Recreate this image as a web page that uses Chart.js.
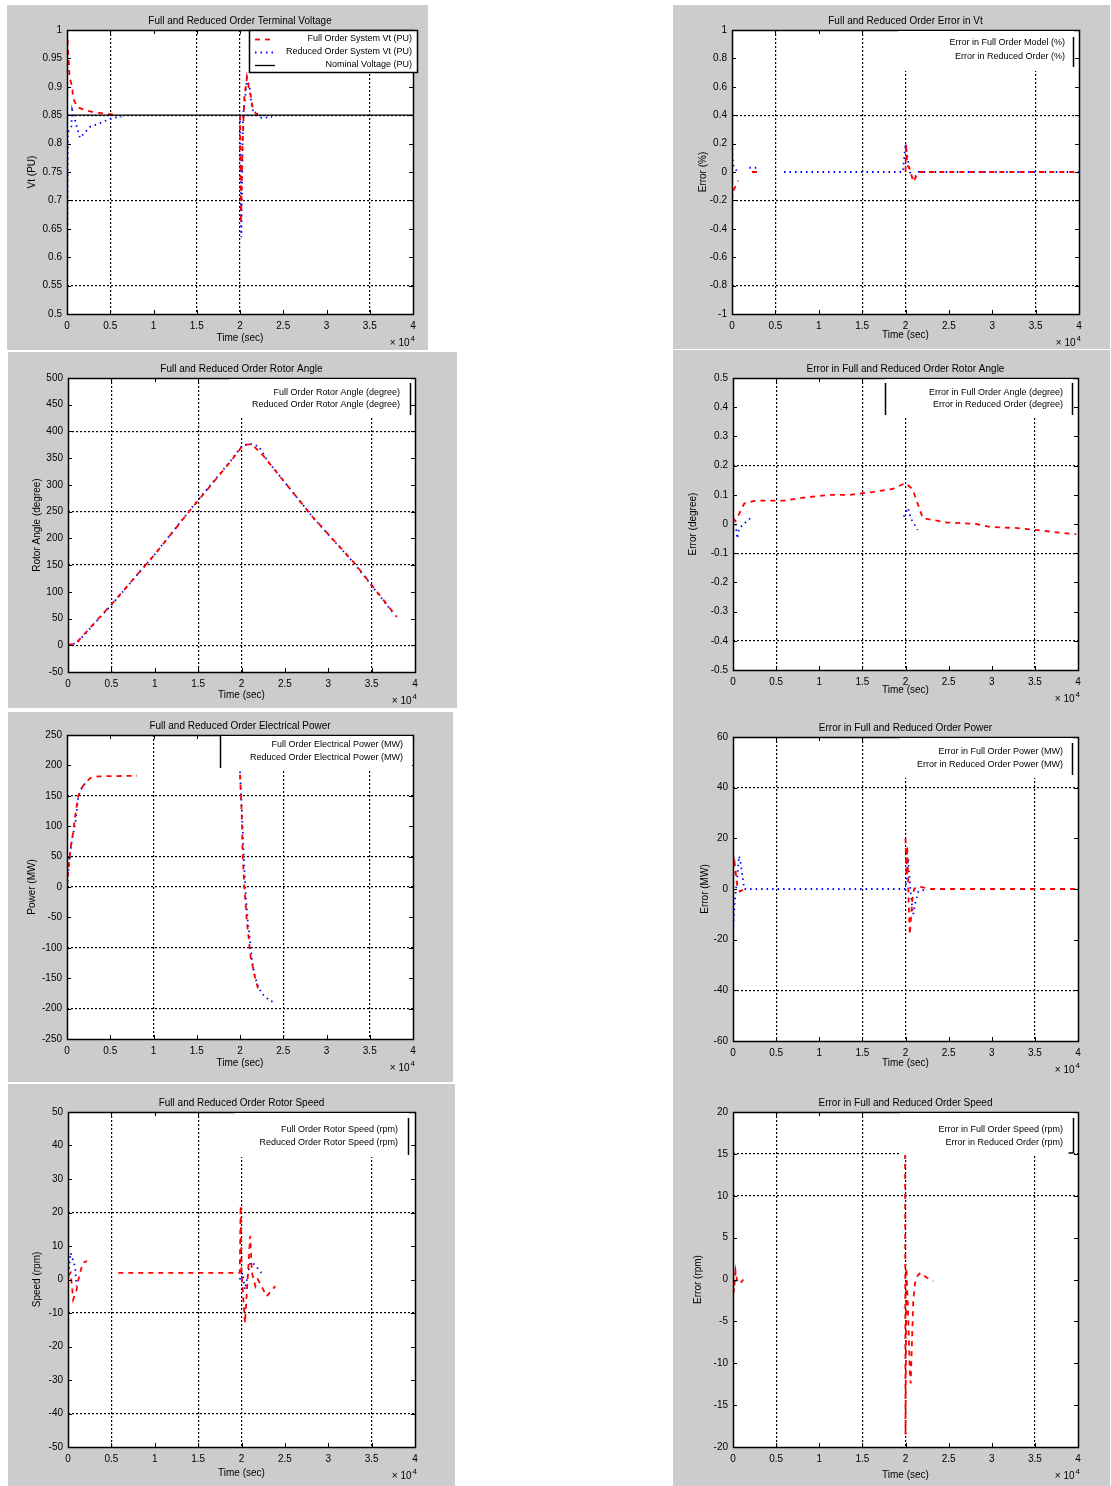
<!DOCTYPE html>
<html lang="en">
<head>
<meta charset="UTF-8">
<title>Full and Reduced Order Model Comparison</title>
<script src="https://cdn.jsdelivr.net/npm/chart.js"></script>
<style>
  body { margin: 0; background: #fff; }
  .panel { position: absolute; background: #cccccc; }
  .panel canvas { display: block; }
</style>
</head>
<body>
<script>
// time is in units of 10^4 s (axis shows "x 10^4")
const xTicks = [0, 0.5, 1, 1.5, 2, 2.5, 3, 3.5, 4];

// terminal voltage (pu)
const vtTicks = [0.5, 0.55, 0.6, 0.65, 0.7, 0.75, 0.8, 0.85, 0.9, 0.95, 1];
const vtFullT = [0, 0.01, 0.03, 0.06, 0.07, 0.12, 0.21, 0.29, 0.46, 0.55, 1.2, 2.0, 2.01, 2.03, 2.05, 2.08, 2.1, 2.13, 2.15, 2.2, 2.25];
const vtFull  = [1.0, 0.97, 0.917, 0.9, 0.88, 0.864, 0.859, 0.856, 0.852, 0.851, null, 0.85, 0.66, 0.8, 0.88, 0.917, 0.9, 0.88, 0.86, 0.85, 0.847];
const vtRedT  = [0, 0.01, 0.05, 0.06, 0.15, 0.27, 0.38, 0.52, 0.63, 1.2, 2.0, 2.015, 2.035, 2.06, 2.08, 2.11, 2.14, 2.25, 2.37];
const vtRed   = [0.54, 0.82, 0.83, 0.859, 0.81, 0.83, 0.836, 0.845, 0.847, null, 0.85, 0.635, 0.85, 0.88, 0.915, 0.9, 0.86, 0.845, 0.847];
const vtNomT  = [0, 4];
const vtNom   = [0.85, 0.85];

// error in terminal voltage (%)
const vtErrTicks = [-1, -0.8, -0.6, -0.4, -0.2, 0, 0.2, 0.4, 0.6, 0.8, 1];
const vtErrFullT = [0, 0.01, 0.07, 0.15, 0.23, 0.33, 1.2, 2.0, 2.005, 2.02, 2.05, 2.09, 2.15, 4];
const vtErrFull  = [-0.2, -0.14, -0.06, null, 0, 0, null, 0, 0.2, 0.05, 0.02, -0.07, 0, 0];
const vtErrRedT  = [0, 0.005, 0.02, 0.07, 0.14, 0.2, 0.28, 0.45, 0.6, 1.97, 2.0, 2.03, 2.05, 2.09, 2.15, 4];
const vtErrRed   = [0.32, 0.1, 0.03, 0, null, 0.03, 0.03, null, 0, 0, 0.2, 0.08, 0, -0.05, 0, 0];

// rotor angle (degree)
const angTicks = [-50, 0, 50, 100, 150, 200, 250, 300, 350, 400, 450, 500];
const angFullT = [0, 0.1, 0.52, 1.0, 1.43, 1.89, 2.02, 2.12, 2.25, 2.82, 3.3, 3.79];
const angFull  = [0, 5, 80, 170, 257, 347, 375, 376, 355, 240, 154, 53];
const angRedT  = [0, 0.1, 0.52, 1.0, 1.43, 1.89, 2.0, 2.1, 2.2, 2.3, 2.82, 3.3, 3.74];
const angRed   = [0, 4, 79, 170, 258, 348, 372, 377, 372, 345, 240, 153, 62];

// error in rotor angle (degree)
const angErrTicks = [-0.5, -0.4, -0.3, -0.2, -0.1, 0, 0.1, 0.2, 0.3, 0.4, 0.5];
const angErrFullT = [0, 0.03, 0.13, 0.26, 0.59, 0.82, 1.13, 1.36, 1.63, 1.85, 2.0, 2.08, 2.13, 2.2, 2.48, 2.82, 2.98, 3.3, 3.5, 3.8, 3.98];
const angErrFull  = [0.02, 0.01, 0.07, 0.08, 0.08, 0.09, 0.1, 0.1, 0.11, 0.12, 0.14, 0.12, 0.08, 0.02, 0.005, 0, -0.01, -0.014, -0.02, -0.03, -0.035];
const angErrRedT  = [0.03, 0.05, 0.07, 0.2, 1.0, 1.98, 2.03, 2.06, 2.1, 2.14];
const angErrRed   = [0, -0.05, -0.015, 0.02, null, 0.025, 0.055, 0.02, 0, -0.02];

// electrical power (MW)
const pwrTicks = [-250, -200, -150, -100, -50, 0, 50, 100, 150, 200, 250];
const pwrFullT = [0, 0.01, 0.03, 0.05, 0.07, 0.1, 0.13, 0.17, 0.21, 0.27, 0.36, 0.81, 1.4, 2.0, 2.02, 2.03, 2.05, 2.08, 2.1, 2.12, 2.17, 2.21];
const pwrFull  = [0, 20, 48, 72, 89, 122, 150, 163, 171, 179, 182, 183, null, 185, 120, 56, 0, -58, -83, -113, -146, -168];
const pwrRedT  = [0, 0.01, 0.03, 0.06, 0.1, 0.13, 0.16, 0.21, 1.4, 2.0, 2.01, 2.03, 2.04, 2.05, 2.07, 2.09, 2.11, 2.14, 2.17, 2.2, 2.25, 2.35, 2.4];
const pwrRed   = [0, 15, 48, 80, 108, 148, 160, 171, null, 190, 160, 100, 60, 30, -20, -55, -80, -122, -146, -160, -175, -188, -188];

// error in electrical power (MW)
const pwrErrTicks = [-60, -40, -20, 0, 20, 40, 60];
const pwrErrFullT = [0, 0.02, 0.05, 0.08, 0.13, 1.0, 2.0, 2.01, 2.02, 2.04, 2.05, 2.06, 2.08, 2.1, 2.14, 2.3, 4];
const pwrErrFull  = [5, 10, 1, -1, 0, null, 20, 5, 17, -9, -18, -13, -4, 0, 1, 0, 0];
const pwrErrRedT  = [0, 0.02, 0.05, 0.07, 0.09, 0.11, 0.13, 2.0, 2.03, 2.04, 2.07, 2.09, 2.11, 2.15, 2.25];
const pwrErrRed   = [-17, -5, 5, 13, 10, 5, 0, 0, 12, 7, -5, -10, -6, -1, 0];

// rotor speed (rpm)
const spdTicks = [-50, -40, -30, -20, -10, 0, 10, 20, 30, 40, 50];
const spdFullT = [0, 0.03, 0.06, 0.1, 0.12, 0.17, 0.22, 0.4, 0.58, 1.98, 1.99, 2.0, 2.04, 2.07, 2.1, 2.12, 2.16, 2.19, 2.29, 2.39];
const spdFull  = [1, 2, -6, -3, 0, 5, 5.5, null, 2, 2, 22, 2, -13, 0, 13, 2, -2, 0, -5, -2];
const spdRedT  = [0, 0.03, 0.08, 0.1, 1.0, 1.98, 2.01, 2.04, 2.1, 2.13, 2.23];
const spdRed   = [0, 8, 4, -2, null, 0, 2, -3, 5, 5, 2];

// error in rotor speed (rpm)
const spdErrTicks = [-20, -15, -10, -5, 0, 5, 10, 15, 20];
const spdErrFullT = [0, 0.01, 0.03, 0.05, 0.08, 0.12, 1.0, 1.995, 2.0, 2.01, 2.03, 2.05, 2.06, 2.09, 2.11, 2.13, 2.17, 2.25, 2.32];
const spdErrFull  = [2.5, -1.5, 1, -0.3, -0.5, 0, null, 15, -18.5, 1.4, -4, -11, -12.4, -2.5, -0.5, 0.3, 0.8, 0.2, -0.2];
const spdErrRedT  = [];
const spdErrRed   = [];

const FONT = '"Liberation Sans", Arial, sans-serif';
const RED = { color: '#ff0000', dash: [5, 5] };
const BLUE = { color: '#0000ff', dash: [1.5, 4] };
const BLACK = { color: '#000000', dash: [] };
const gridCommon = [0.5, 1.5, 2, 3.5];

const toPts = (t, v) => t.map((x, i) => ({ x: x, y: v[i] }));
const fmt = v => String(Math.round(v * 1000) / 1000);
const has = (list, v) => list.some(g => Math.abs(g - v) < 1e-9);

const panels = [
  { box: [7, 5, 421, 345], plot: [67, 30, 413, 314], yTicks: vtTicks,
    gridX: gridCommon, gridY: [0.85, 0.7, 0.55],
    title: 'Full and Reduced Order Terminal Voltage', yTitle: 'Vt (PU)', yPad: 19, xPad: 6,
    series: [
      { label: 'Full Order System Vt (PU)', t: vtFullT, v: vtFull, st: RED },
      { label: 'Reduced Order System Vt (PU)', t: vtRedT, v: vtRed, st: BLUE },
      { label: 'Nominal Voltage (PU)', t: vtNomT, v: vtNom, st: BLACK, width: 1.3 }
    ],
    legend: { x0: 249, y0: 30, x1: 418, y1: 73, frame: true, samples: [255, 275], textX: 412, rows: [39, 52, 65] } },
  { box: [673, 5, 437, 344], plot: [732, 30, 1079, 314], yTicks: vtErrTicks,
    gridX: gridCommon, gridY: [0.4, -0.2, -0.8],
    title: 'Full and Reduced Order Error in Vt', yTitle: 'Error (%)', yPad: 24, xPad: 8,
    series: [
      { label: 'Error in Full Order Model (%)', t: vtErrFullT, v: vtErrFull, st: RED },
      { label: 'Error in Reduced Order (%)', t: vtErrRedT, v: vtErrRed, st: BLUE }
    ],
    legend: { x0: 898, y0: 31, x1: 1074, y1: 71, bars: [[1073, 37, 1073, 67]], textX: 1065, rows: [43, 57] } },
  { box: [8, 352, 449, 356], plot: [68, 378, 415, 672], yTicks: angTicks,
    gridX: gridCommon, gridY: [400, 250, 150, 0],
    title: 'Full and Reduced Order Rotor Angle', yTitle: 'Rotor Angle (degree)', yPad: 23, xPad: 7,
    series: [
      { label: 'Full Order Rotor Angle (degree)', t: angFullT, v: angFull, st: RED },
      { label: 'Reduced Order Rotor Angle (degree)', t: angRedT, v: angRed, st: BLUE }
    ],
    legend: { x0: 230, y0: 379, x1: 411, y1: 418, bars: [[410, 383, 410, 415]], textX: 400, rows: [393, 405] } },
  { box: [673, 350, 437, 358], plot: [733, 378, 1078, 670], yTicks: angErrTicks,
    gridX: gridCommon, gridY: [0.2, -0.1, -0.4],
    title: 'Error in Full and Reduced Order Rotor Angle', yTitle: 'Error (degree)', yPad: 14, xPad: 12,
    series: [
      { label: 'Error in Full Order Angle (degree)', t: angErrFullT, v: angErrFull, st: RED },
      { label: 'Error in Reduced Order (degree)', t: angErrRedT, v: angErrRed, st: BLUE }
    ],
    legend: { x0: 885, y0: 379, x1: 1073, y1: 418, bars: [[885, 383, 885, 415], [1072, 383, 1072, 415]], textX: 1063, rows: [393, 405] } },
  { box: [8, 712, 445, 370], plot: [67, 735, 413, 1039], yTicks: pwrTicks,
    gridX: [1, 2.5, 3.5], gridY: [150, 50, 0, -100, -200],
    title: 'Full and Reduced Order Electrical Power', yTitle: 'Power (MW)', yPad: 18, xPad: 13,
    series: [
      { label: 'Full Order Electrical Power (MW)', t: pwrFullT, v: pwrFull, st: RED },
      { label: 'Reduced Order Electrical Power (MW)', t: pwrRedT, v: pwrRed, st: BLUE }
    ],
    legend: { x0: 220, y0: 736, x1: 412, y1: 770, bars: [[220, 735, 220, 768]], textX: 403, rows: [745, 758] } },
  { box: [673, 708, 437, 377], plot: [733, 737, 1078, 1041], yTicks: pwrErrTicks,
    gridX: gridCommon, gridY: [40, -40],
    title: 'Error in Full and Reduced Order Power', yTitle: 'Error (MW)', yPad: 26, xPad: 16,
    series: [
      { label: 'Error in Full Order Power (MW)', t: pwrErrFullT, v: pwrErrFull, st: RED },
      { label: 'Error in Reduced Order Power (MW)', t: pwrErrRedT, v: pwrErrRed, st: BLUE }
    ],
    legend: { x0: 900, y0: 738, x1: 1073, y1: 778, bars: [[1072, 743, 1072, 775]], textX: 1063, rows: [752, 765] } },
  { box: [8, 1084, 447, 402], plot: [68, 1112, 415, 1447], yTicks: spdTicks,
    gridX: gridCommon, gridY: [20, -10, -40],
    title: 'Full and Reduced Order Rotor Speed', yTitle: 'Speed (rpm)', yPad: 23, xPad: 7,
    series: [
      { label: 'Full Order Rotor Speed (rpm)', t: spdFullT, v: spdFull, st: RED },
      { label: 'Reduced Order Rotor Speed (rpm)', t: spdRedT, v: spdRed, st: BLUE }
    ],
    legend: { x0: 235, y0: 1113, x1: 409, y1: 1157, bars: [[408, 1118, 408, 1155]], textX: 398, rows: [1130, 1143] } },
  { box: [673, 1085, 437, 401], plot: [733, 1112, 1078, 1447], yTicks: spdErrTicks,
    gridX: gridCommon, gridY: [15, 10],
    title: 'Error in Full and Reduced Order Speed', yTitle: 'Error (rpm)', yPad: 19, xPad: 5,
    series: [
      { label: 'Error in Full Order Speed (rpm)', t: spdErrFullT, v: spdErrFull, st: RED },
      { label: 'Error in Reduced Order (rpm)', t: spdErrRedT, v: spdErrRed, st: BLUE }
    ],
    legend: { x0: 900, y0: 1113, x1: 1074, y1: 1155, bars: [[1073, 1118, 1073, 1153], [1068, 1153, 1073, 1153]], textX: 1063, rows: [1130, 1143] } }
];

function makeDecor(p) {
  return {
    id: 'decor',
    beforeDraw(chart) {
      const a = chart.chartArea, ctx = chart.ctx;
      ctx.save();
      ctx.fillStyle = '#ffffff';
      ctx.fillRect(a.left, a.top, a.right - a.left, a.bottom - a.top);
      ctx.restore();
    },
    afterDatasetsDraw(chart) {
      const ctx = chart.ctx, a = chart.chartArea;
      const ox = p.box[0], oy = p.box[1];
      const sx = chart.scales.x, sy = chart.scales.y;
      ctx.save();
      // axes box
      ctx.strokeStyle = '#000';
      ctx.lineWidth = 1.5;
      ctx.strokeRect(Math.round(a.left) + 0.5, Math.round(a.top) + 0.5,
        Math.round(a.right - a.left), Math.round(a.bottom - a.top));
      // inward ticks
      ctx.lineWidth = 1;
      ctx.beginPath();
      xTicks.forEach(v => {
        const px = Math.round(sx.getPixelForValue(v)) + 0.5;
        ctx.moveTo(px, a.bottom); ctx.lineTo(px, a.bottom - 4);
        ctx.moveTo(px, a.top); ctx.lineTo(px, a.top + 4);
      });
      p.yTicks.forEach(v => {
        const py = Math.round(sy.getPixelForValue(v)) + 0.5;
        ctx.moveTo(a.left, py); ctx.lineTo(a.left + 4, py);
        ctx.moveTo(a.right, py); ctx.lineTo(a.right - 4, py);
      });
      ctx.stroke();

      // legend
      const L = p.legend;
      ctx.fillStyle = '#fff';
      ctx.fillRect(L.x0 - ox, L.y0 - oy, L.x1 - L.x0, L.y1 - L.y0);
      ctx.strokeStyle = '#000';
      ctx.lineWidth = 1.5;
      if (L.frame) {
        ctx.strokeRect(L.x0 - ox + 0.5, L.y0 - oy + 0.5, L.x1 - L.x0 - 1, L.y1 - L.y0 - 1);
      }
      (L.bars || []).forEach(b => {
        ctx.beginPath();
        ctx.moveTo(b[0] - ox + 0.5, b[1] - oy);
        ctx.lineTo(b[2] - ox + 0.5, b[3] - oy);
        ctx.stroke();
      });
      ctx.font = '9px ' + FONT;
      ctx.textAlign = 'right';
      ctx.textBaseline = 'middle';
      p.series.forEach((s, i) => {
        const ry = L.rows[i] - oy;
        ctx.fillStyle = '#000';
        ctx.fillText(s.label, L.textX - ox, ry);
        if (L.samples) {
          ctx.save();
          ctx.strokeStyle = s.st.color;
          ctx.lineWidth = s.width || 1.8;
          ctx.setLineDash(s.st.dash);
          ctx.beginPath();
          ctx.moveTo(L.samples[0] - ox, ry + 0.5);
          ctx.lineTo(L.samples[1] - ox, ry + 0.5);
          ctx.stroke();
          ctx.restore();
        }
      });

      // title
      ctx.fillStyle = '#000';
      ctx.font = '10px ' + FONT;
      ctx.textAlign = 'center';
      ctx.textBaseline = 'alphabetic';
      ctx.fillText(p.title, (a.left + a.right) / 2, a.top - 6);

      // exponent label
      ctx.textAlign = 'right';
      ctx.font = '8px ' + FONT;
      ctx.fillText('4', a.right + 2, a.bottom + 27);
      const w4 = ctx.measureText('4').width;
      ctx.font = '10px ' + FONT;
      ctx.fillText('\u00d7 10', a.right + 1 - w4, a.bottom + 32);
      ctx.restore();
    }
  };
}

function makePanel(p) {
  const div = document.createElement('div');
  div.className = 'panel';
  div.style.left = p.box[0] + 'px';
  div.style.top = p.box[1] + 'px';
  div.style.width = p.box[2] + 'px';
  div.style.height = p.box[3] + 'px';
  const cv = document.createElement('canvas');
  cv.width = p.box[2];
  cv.height = p.box[3];
  div.appendChild(cv);
  document.body.appendChild(div);

  const leftW = p.plot[0] - p.box[0];
  const topPad = p.plot[1] - p.box[1];
  const rightPad = p.box[0] + p.box[2] - p.plot[2];
  const bottomH = p.box[1] + p.box[3] - p.plot[3];
  const tickFont = { family: FONT, size: 10 };

  new Chart(cv, {
    type: 'line',
    data: {
      datasets: p.series.map((s, i) => ({
        label: s.label,
        data: toPts(s.t, s.v),
        borderColor: s.st.color,
        borderDash: s.st.dash,
        borderWidth: s.width || 1.8,
        pointRadius: 0,
        fill: false,
        tension: 0,
        spanGaps: false,
        order: s.st === BLACK ? -1 : i
      }))
    },
    options: {
      responsive: false,
      animation: false,
      events: [],
      layout: { padding: { top: topPad, right: rightPad, left: 0, bottom: 0 } },
      plugins: { legend: { display: false }, tooltip: { enabled: false }, title: { display: false } },
      scales: {
        x: {
          type: 'linear', min: 0, max: 4,
          afterBuildTicks: ax => { ax.ticks = xTicks.map(v => ({ value: v })); },
          afterFit: ax => { ax.height = bottomH; },
          grid: {
            drawTicks: false,
            lineWidth: 1.2,
            color: c => (c.tick && has(p.gridX, c.tick.value)) ? '#000' : 'rgba(0,0,0,0)'
          },
          border: { display: false, dash: [2, 2] },
          ticks: { color: '#000', font: tickFont, padding: 6, maxRotation: 0, autoSkip: false, callback: v => fmt(v) },
          title: { display: true, text: 'Time (sec)', color: '#000', font: tickFont, padding: { top: 0, bottom: p.xPad } }
        },
        y: {
          type: 'linear', min: p.yTicks[0], max: p.yTicks[p.yTicks.length - 1],
          afterBuildTicks: ax => { ax.ticks = p.yTicks.map(v => ({ value: v })); },
          afterFit: ax => { ax.width = leftW; },
          grid: {
            drawTicks: false,
            lineWidth: 1.2,
            color: c => (c.tick && has(p.gridY, c.tick.value)) ? '#000' : 'rgba(0,0,0,0)'
          },
          border: { display: false, dash: [2, 2] },
          ticks: { color: '#000', font: tickFont, padding: 5, autoSkip: false, callback: v => fmt(v) },
          title: { display: true, text: p.yTitle, color: '#000', font: tickFont, padding: { top: p.yPad, bottom: 0 } }
        }
      }
    },
    plugins: [makeDecor(p)]
  });
}

panels.forEach(makePanel);
</script>
</body>
</html>
